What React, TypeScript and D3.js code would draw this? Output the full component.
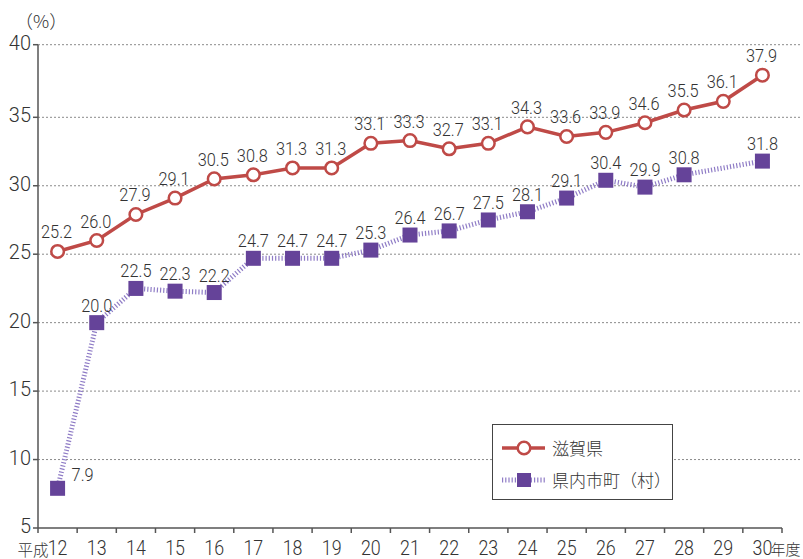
import React from "react";
import * as d3 from "d3";

const years = ["12","13","14","15","16","17","18","19","20","21","22","23","24","25","26","27","28","29","30"];
const shigaValues = [25.2, 26.0, 27.9, 29.1, 30.5, 30.8, 31.3, 31.3, 33.1, 33.3, 32.7, 33.1, 34.3, 33.6, 33.9, 34.6, 35.5, 36.1, 37.9];
const municipalValues: (number | null)[] = [7.9, 20.0, 22.5, 22.3, 22.2, 24.7, 24.7, 24.7, 25.3, 26.4, 26.7, 27.5, 28.1, 29.1, 30.4, 29.9, 30.8, null, 31.8];
const yTicks = [5, 10, 15, 20, 25, 30, 35, 40];
const seriesNames = ["滋賀県", "県内市町（村）"];

const RED = "#bf4a47";
const PURPLE = "#654399";
const PURPLE_LINE = "#8f7cc6";
const TEXT = "#333";
const FONT = "Roboto, 'Liberation Sans', Arial, sans-serif";
const JP = "'Noto Sans CJK JP', sans-serif";

export default function App() {
  const W = 803, H = 559;
  const x = d3.scaleBand<string>().domain(years).range([38, 782]).padding(0);
  const cx = (i: number) => (x(years[i]) as number) + x.bandwidth() / 2;
  const y = d3.scaleLinear().domain([5, 35, 40]).range([528, 117.3, 44.7]);

  const redLine = d3.line<number>().x((_, i) => cx(i)).y((d) => y(d));
  const munPts = municipalValues
    .map((v, i) => ({ v, i }))
    .filter((d) => d.v !== null) as { v: number; i: number }[];
  const purpleLine = d3.line<{ v: number; i: number }>().x((d) => cx(d.i)).y((d) => y(d.v));

  const numScale = 0.86;

  return (
    <svg width={W} height={H} style={{ position: "absolute", left: 0, top: 0 }} fontFamily={FONT} fontWeight={300}>
      <rect x={0} y={0} width={W} height={H} fill="#fff" />
      {/* unit label */}
      <text x={15} y={28} fontSize={18} fill={TEXT} fontFamily={JP} fontWeight={300}>（%）</text>

      {/* gridlines */}
      {yTicks.filter((t) => t > 5).map((t) => (
        <line key={"g" + t} x1={38} x2={800} y1={y(t)} y2={y(t)} stroke="#8a8a8a" strokeWidth={1} strokeDasharray="2 2" />
      ))}

      {/* y axis */}
      <line x1={38} x2={38} y1={y(40)} y2={y(5)} stroke="#555" strokeWidth={1.5} />
      {yTicks.map((t) => (
        <g key={"yt" + t}>
          <line x1={33} x2={38} y1={y(t)} y2={y(t)} stroke="#555" strokeWidth={1.5} />
          <text transform={`translate(31,${y(t) + 5}) scale(0.95,1)`} textAnchor="end" fontSize={21} fill={TEXT}>{t}</text>
        </g>
      ))}

      {/* x axis */}
      <line x1={38} x2={782} y1={y(5)} y2={y(5)} stroke="#555" strokeWidth={1.5} />
      {d3.range(years.length + 1).map((k) => {
        const xx = 38 + k * x.step();
        return <line key={"xt" + k} x1={xx} x2={xx} y1={y(5)} y2={y(5) + 5} stroke="#555" strokeWidth={1.5} />;
      })}
      {years.map((yr, i) => (
        <text key={"xl" + yr} transform={`translate(${cx(i)},555) scale(0.85,1)`} textAnchor="middle" fontSize={21} fill={TEXT}>{yr}</text>
      ))}
      <text x={cx(0) - 9} y={556} textAnchor="end" fontSize={15.5} fill={TEXT} fontFamily={JP}>平成</text>
      <text x={cx(years.length - 1) + 8} y={555} textAnchor="start" fontSize={15} fill={TEXT} fontFamily={JP}>年度</text>

      {/* purple series */}
      <path d={purpleLine(munPts) || ""} fill="none" stroke={PURPLE_LINE} strokeWidth={5} strokeDasharray="1.2 2" />
      {munPts.map((d) => (
        <rect key={"sq" + d.i} x={cx(d.i) - 7.5} y={y(d.v) - 7.5} width={15} height={15} fill={PURPLE} />
      ))}
      {munPts.map((d) => {
        const first = d.i === 0;
        const tx = first ? cx(d.i) + 14 : cx(d.i);
        const ty = first ? y(d.v) - 7 : y(d.v) - 11;
        return (
          <text key={"pl" + d.i} transform={`translate(${tx},${ty}) scale(${numScale},1)`} textAnchor={first ? "start" : "middle"} fontSize={19} fill={TEXT}>
            {d.v.toFixed(1)}
          </text>
        );
      })}

      {/* red series */}
      <path d={redLine(shigaValues) || ""} fill="none" stroke={RED} strokeWidth={3.5} />
      {shigaValues.map((v, i) => (
        <circle key={"c" + i} cx={cx(i)} cy={y(v)} r={6.3} fill="#fff" stroke={RED} strokeWidth={2.5} />
      ))}
      {shigaValues.map((v, i) => (
        <text key={"rl" + i} transform={`translate(${cx(i) - 1},${y(v) - 13}) scale(${numScale},1)`} textAnchor="middle" fontSize={19} fill={TEXT}>
          {v.toFixed(1)}
        </text>
      ))}

      {/* legend */}
      <rect x={492.5} y={424.5} width={180} height={75} fill="#fff" stroke="#444" strokeWidth={1} />
      <line x1={502} x2={545} y1={448} y2={448} stroke={RED} strokeWidth={3.5} />
      <circle cx={524} cy={448} r={6.3} fill="#fff" stroke={RED} strokeWidth={2.5} />
      <text x={552} y={455} fontSize={17} fill={TEXT} fontFamily={JP}>{seriesNames[0]}</text>
      <line x1={502} x2={545} y1={480} y2={480} stroke={PURPLE_LINE} strokeWidth={5} strokeDasharray="1.2 2" />
      <rect x={517} y={473} width={14} height={14} fill={PURPLE} />
      <text x={552} y={487} fontSize={17} fill={TEXT} fontFamily={JP}>{seriesNames[1]}</text>
    </svg>
  );
}
